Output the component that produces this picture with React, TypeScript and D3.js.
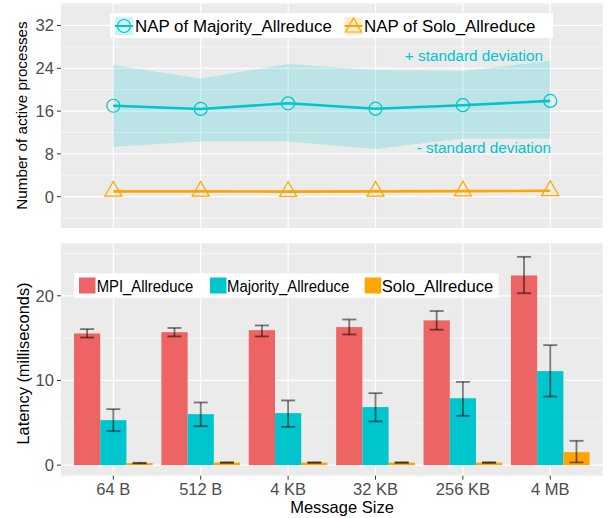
import React from "react";
import * as d3 from "d3";

const categories = ["64 B", "512 B", "4 KB", "32 KB", "256 KB", "4 MB"];

// Top panel: number of active processes
const majorityNap = [17.0, 16.4, 17.45, 16.45, 17.1, 17.9];
const majorityUpper = [24.6, 22.1, 24.8, 23.7, 23.5, 25.4];
const majorityLower = [9.35, 10.3, 10.3, 8.9, 10.9, 10.9];
const soloNap = [1.0, 1.0, 0.95, 1.0, 1.05, 1.1];
const topTicks = [0, 8, 16, 24, 32];
const topMinor = [-4, 4, 12, 20, 28, 36];

// Bottom panel: latency
const latencySeries = ["MPI_Allreduce", "Majority_Allreduce", "Solo_Allreduce"];
const mpiMean = [15.55, 15.7, 15.94, 16.3, 17.1, 22.4];
const mpiLow = [15.07, 15.2, 15.2, 15.43, 16.0, 20.3];
const mpiHigh = [16.06, 16.2, 16.5, 17.2, 18.2, 24.6];
const majMean = [5.31, 6.02, 6.14, 6.85, 7.9, 11.1];
const majLow = [4.01, 4.6, 4.52, 5.16, 5.82, 8.1];
const majHigh = [6.61, 7.4, 7.64, 8.5, 9.83, 14.17];
const soloMean = [0.24, 0.3, 0.3, 0.3, 0.3, 1.53];
const soloLow = [0.2, 0.26, 0.26, 0.26, 0.26, 0.32];
const soloHigh = [0.28, 0.34, 0.34, 0.34, 0.34, 2.87];
const bottomTicks = [0, 10, 20];
const bottomMinor = [5, 15, 25];

const RED = "#EE6363";
const CYAN = "#00C5CD";
const ORANGE = "#FFA500";
const BG = "#EBEBEB";
const FONT = "Liberation Sans, Arial, sans-serif";

export default function App() {
  const W = 612, H = 518;
  const x0 = 60.9, x1 = 602.7;
  const topY0 = 3, topY1 = 228;
  const botY0 = 243.3, botY1 = 475.7;

  const xPos = d3.scaleLinear().domain([0.4, 6.6]).range([x0, x1]);
  const cx = (i: number) => xPos(i + 1);
  const yTop = d3.scaleLinear().domain([-5.85, 36.2]).range([topY1, topY0]);
  const yBot = d3.scaleLinear().domain([-1.25, 26.2]).range([botY1, botY0]);

  const idx = categories.map((_, i) => i);
  const ribbon = d3.area<number>()
    .x((i) => cx(i))
    .y0((i) => yTop(majorityLower[i]))
    .y1((i) => yTop(majorityUpper[i]));
  const majLine = d3.line<number>().x((i) => cx(i)).y((i) => yTop(majorityNap[i]));
  const soloLine = d3.line<number>().x((i) => cx(i)).y((i) => yTop(soloNap[i]));

  const band = d3.scaleBand<string>().domain(latencySeries).range([-0.45, 0.45]).padding(0);
  const unit = xPos(2) - xPos(1);
  const barData = [
    { name: latencySeries[0], mean: mpiMean, low: mpiLow, high: mpiHigh, color: RED },
    { name: latencySeries[1], mean: majMean, low: majLow, high: majHigh, color: CYAN },
    { name: latencySeries[2], mean: soloMean, low: soloLow, high: soloHigh, color: ORANGE },
  ];

  const triPath = (x: number, y: number, s = 8.5) =>
    `M${x},${y - s}L${x + s},${y + s * 0.75}L${x - s},${y + s * 0.75}Z`;

  const tickFont = 16.5;

  return (
    <svg width={W} height={H} style={{ position: "absolute", left: 0, top: 0 }} fontFamily={FONT}>
      <rect width={W} height={H} fill="white" />
      {/* ---------- TOP PANEL ---------- */}
      <rect x={x0} y={topY0} width={x1 - x0} height={topY1 - topY0} fill={BG} />
      {topMinor.map((v) => (
        <line key={"tm" + v} x1={x0} x2={x1} y1={yTop(v)} y2={yTop(v)} stroke="white" strokeWidth={0.6} />
      ))}
      {topTicks.map((v) => (
        <line key={"tM" + v} x1={x0} x2={x1} y1={yTop(v)} y2={yTop(v)} stroke="white" strokeWidth={1.2} />
      ))}
      {idx.map((i) => (
        <line key={"tv" + i} x1={cx(i)} x2={cx(i)} y1={topY0} y2={topY1} stroke="white" strokeWidth={1.2} />
      ))}
      <path d={ribbon(idx) || ""} fill={CYAN} fillOpacity={0.2} />
      <path d={majLine(idx) || ""} fill="none" stroke={CYAN} strokeWidth={2.6} />
      {idx.map((i) => (
        <circle key={"mc" + i} cx={cx(i)} cy={yTop(majorityNap[i])} r={6.5} fill="none" stroke={CYAN} strokeWidth={1.2} />
      ))}
      <path d={soloLine(idx) || ""} fill="none" stroke={ORANGE} strokeWidth={2.6} />
      {idx.map((i) => (
        <path key={"st" + i} d={triPath(cx(i), yTop(soloNap[i]) - 1.5)} fill="none" stroke={ORANGE} strokeWidth={1.2} />
      ))}
      {topTicks.map((v) => (
        <g key={"tt" + v}>
          <line x1={x0 - 4} x2={x0} y1={yTop(v)} y2={yTop(v)} stroke="#333" strokeWidth={1} />
          <text x={x0 - 7} y={yTop(v)} dy="0.36em" textAnchor="end" fontSize={tickFont} fill="#4D4D4D">{v}</text>
        </g>
      ))}
      <text transform={`translate(27,${(topY0 + topY1) / 2}) rotate(-90)`} textAnchor="middle" fontSize={15.2} fill="black">
        Number of active processes
      </text>
      <text x={543} y={61} textAnchor="end" fontSize={15.3} fill={CYAN}>+ standard deviation</text>
      <text x={551} y={153} textAnchor="end" fontSize={15.3} fill={CYAN}>- standard deviation</text>
      {/* top legend */}
      <rect x={110} y={13} width={443} height={25} fill="white" />
      <rect x={115} y={17} width={18} height={18} fill={CYAN} fillOpacity={0.2} />
      <line x1={115} x2={133} y1={26} y2={26} stroke={CYAN} strokeWidth={2} />
      <circle cx={124} cy={26} r={6.5} fill="none" stroke={CYAN} strokeWidth={1.2} />
      <text x={135} y={32} fontSize={16.9} fill="black">NAP of Majority_Allreduce</text>
      <rect x={344.5} y={17} width={18} height={18} fill={ORANGE} fillOpacity={0.2} />
      <line x1={344.5} x2={362.5} y1={26} y2={26} stroke={ORANGE} strokeWidth={2} />
      <path d={triPath(353.5, 26, 8)} fill="none" stroke={ORANGE} strokeWidth={1.2} />
      <text x={364} y={32} fontSize={16.9} fill="black">NAP of Solo_Allreduce</text>

      {/* ---------- BOTTOM PANEL ---------- */}
      <rect x={x0} y={botY0} width={x1 - x0} height={botY1 - botY0} fill={BG} />
      {bottomMinor.map((v) => (
        <line key={"bm" + v} x1={x0} x2={x1} y1={yBot(v)} y2={yBot(v)} stroke="white" strokeWidth={0.6} />
      ))}
      {bottomTicks.map((v) => (
        <line key={"bM" + v} x1={x0} x2={x1} y1={yBot(v)} y2={yBot(v)} stroke="white" strokeWidth={1.2} />
      ))}
      {idx.map((i) => (
        <line key={"bv" + i} x1={cx(i)} x2={cx(i)} y1={botY0} y2={botY1} stroke="white" strokeWidth={1.2} />
      ))}
      {barData.map((s) =>
        idx.map((i) => {
          const bx = xPos(i + 1 + (band(s.name) as number));
          const bw = band.bandwidth() * unit;
          const top = yBot(Math.max(0, s.mean[i]));
          return <rect key={s.name + i} x={bx} y={top} width={bw} height={yBot(0) - top} fill={s.color} />;
        })
      )}
      {barData.map((s) =>
        idx.map((i) => {
          const mx = xPos(i + 1 + (band(s.name) as number) + band.bandwidth() / 2);
          const hw = 7;
          const yl = yBot(s.low[i]);
          const yh = yBot(s.high[i]);
          return (
            <g key={"e" + s.name + i} stroke="black" strokeOpacity={0.5} strokeWidth={1.8}>
              <line x1={mx} x2={mx} y1={yl} y2={yh} />
              <line x1={mx - hw} x2={mx + hw} y1={yl} y2={yl} />
              <line x1={mx - hw} x2={mx + hw} y1={yh} y2={yh} />
            </g>
          );
        })
      )}
      {bottomTicks.map((v) => (
        <g key={"bt" + v}>
          <line x1={x0 - 4} x2={x0} y1={yBot(v)} y2={yBot(v)} stroke="#333" strokeWidth={1} />
          <text x={x0 - 7} y={yBot(v)} dy="0.36em" textAnchor="end" fontSize={tickFont} fill="#4D4D4D">{v}</text>
        </g>
      ))}
      {idx.map((i) => (
        <g key={"xt" + i}>
          <line x1={cx(i)} x2={cx(i)} y1={botY1} y2={botY1 + 4} stroke="#333" strokeWidth={1} />
          <text x={cx(i)} y={495.3} textAnchor="middle" fontSize={tickFont} fill="#4D4D4D">{categories[i]}</text>
        </g>
      ))}
      <text x={342} y={512.5} textAnchor="middle" fontSize={16.5} fill="black">Message Size</text>
      <text transform={`translate(29,${(botY0 + botY1) / 2 + 4}) rotate(-90)`} textAnchor="middle" fontSize={16.4} fill="black">
        Latency (milliseconds)
      </text>
      {/* bottom legend */}
      <rect x={74} y={273.3} width={424.7} height={24.4} fill="white" />
      {barData.map((s, k) => {
        const kx = [79, 210, 364.7][k];
        const tx = [96.7, 227, 381.7][k];
        const tl = [96.6, 122.3, 111.6][k];
        return (
          <g key={"lg" + k}>
            <rect x={kx} y={277.5} width={16.5} height={16} fill={s.color} />
            <text x={tx} y={291.5} fontSize={16} textLength={tl} lengthAdjust="spacingAndGlyphs" fill="black">{s.name}</text>
          </g>
        );
      })}
    </svg>
  );
}
